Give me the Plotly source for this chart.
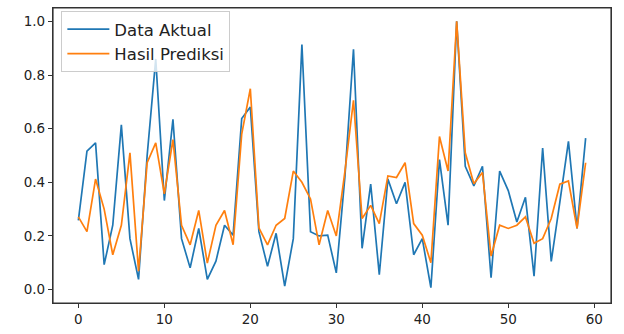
import plotly.graph_objects as go

x_index = list(range(60))

data_aktual = [0.258, 0.516, 0.547, 0.093, 0.24, 0.614, 0.19, 0.038, 0.50, 0.86,
               0.332, 0.635, 0.19, 0.081, 0.228, 0.038, 0.106, 0.24, 0.203, 0.638,
               0.681, 0.216, 0.087, 0.21, 0.013, 0.19, 0.914, 0.216, 0.20, 0.203,
               0.0625, 0.42, 0.896, 0.154, 0.393, 0.056, 0.412, 0.32, 0.40, 0.13,
               0.19, 0.007, 0.485, 0.24, 1.0, 0.46, 0.387, 0.46, 0.044, 0.442,
               0.369, 0.252, 0.344, 0.05, 0.528, 0.105, 0.326, 0.553, 0.228, 0.565]

hasil_prediksi = [0.271, 0.216, 0.412, 0.30, 0.13, 0.24, 0.51, 0.069, 0.473, 0.547,
                  0.357, 0.559, 0.24, 0.167, 0.295, 0.099, 0.24, 0.295, 0.167, 0.58,
                  0.749, 0.23, 0.167, 0.24, 0.265, 0.442, 0.40, 0.338, 0.167, 0.295,
                  0.20, 0.44, 0.706, 0.265, 0.314, 0.246, 0.424, 0.418, 0.473, 0.246,
                  0.203, 0.10, 0.571, 0.442, 1.0, 0.51, 0.395, 0.437, 0.125, 0.24,
                  0.228, 0.24, 0.271, 0.173, 0.19, 0.265, 0.393, 0.405, 0.228, 0.473]

x_ticks = [0, 10, 20, 30, 40, 50, 60]
y_ticks = [0.0, 0.2, 0.4, 0.6, 0.8, 1.0]
y_tick_labels = ["0.0", "0.2", "0.4", "0.6", "0.8", "1.0"]

fig = go.Figure()
fig.add_trace(go.Scatter(x=x_index, y=data_aktual, mode="lines", name="Data Aktual",
                         line=dict(color="#1f77b4", width=1.7)))
fig.add_trace(go.Scatter(x=x_index, y=hasil_prediksi, mode="lines", name="Hasil Prediksi",
                         line=dict(color="#ff7f0e", width=1.7)))

axis_common = dict(showline=True, linecolor="#333333", linewidth=1.2, mirror=True,
                   ticks="outside", ticklen=4, tickcolor="#333333", showgrid=False,
                   zeroline=False, tickfont=dict(family="DejaVu Sans", size=13.5, color="#222222"))

fig.update_layout(
    width=624, height=334,
    margin=dict(l=53, r=13, t=7, b=24),
    paper_bgcolor="white", plot_bgcolor="white",
    font=dict(family="DejaVu Sans", size=13, color="#222222"),
    xaxis=dict(range=[-2.95, 61.95], tickvals=x_ticks, **axis_common),
    yaxis=dict(range=[-0.05, 1.05], tickvals=y_ticks, ticktext=y_tick_labels, **axis_common),
    legend=dict(x=0.015, y=0.99, xanchor="left", yanchor="top",
                bgcolor="rgba(255,255,255,0.8)", bordercolor="#cccccc", borderwidth=1,
                font=dict(family="DejaVu Sans", size=16.5, color="#222222"),
                tracegroupgap=0, itemwidth=42),
    shapes=[dict(type="rect", xref="paper", yref="paper", x0=0, y0=0, x1=1, y1=1,
                 line=dict(color="#333333", width=1.2), fillcolor="rgba(0,0,0,0)",
                 layer="above")],
    showlegend=True,
)

fig.write_html("out.html", config={"displayModeBar": False},
               post_script="document.body.style.margin='0';document.body.style.overflow='hidden';")
